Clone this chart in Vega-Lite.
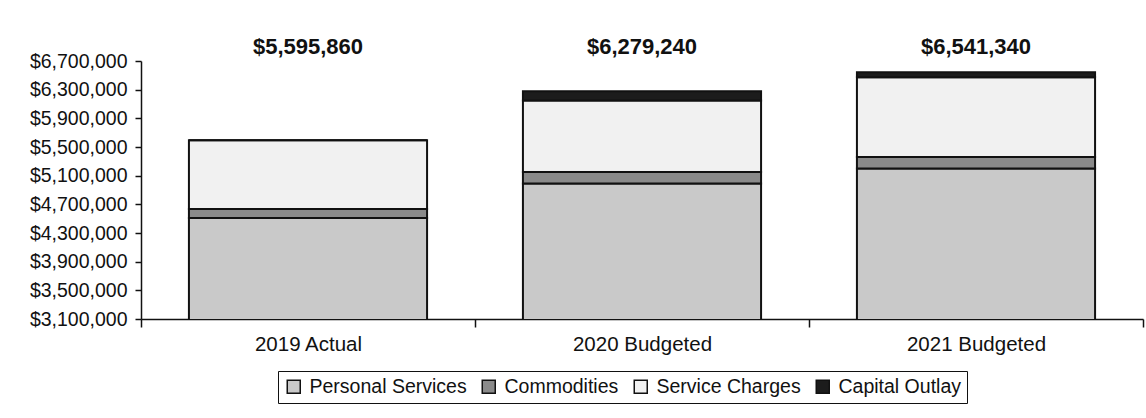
{
  "$schema": "https://vega.github.io/schema/vega-lite/v6.json",
  "width": 1002,
  "height": 258,
  "autosize": {"type": "none"},
  "padding": {"left": 141, "top": 61, "right": 3, "bottom": 99},
  "background": "white",
  "config": {
    "font": "Liberation Sans",
    "view": {"stroke": null},
    "axis": {"grid": false, "domainColor": "#111", "tickColor": "#111", "labelColor": "#111", "domainWidth": 1.5, "tickWidth": 1.5, "labelFont": "Liberation Sans"}
  },
  "data": {
    "values": [
      {"year": "2019 Actual", "category": "Personal Services", "seq": 1, "value": 4510000},
      {"year": "2019 Actual", "category": "Commodities", "seq": 2, "value": 125000},
      {"year": "2019 Actual", "category": "Service Charges", "seq": 3, "value": 960860},
      {"year": "2019 Actual", "category": "Capital Outlay", "seq": 4, "value": 0},
      {"year": "2020 Budgeted", "category": "Personal Services", "seq": 1, "value": 4990000},
      {"year": "2020 Budgeted", "category": "Commodities", "seq": 2, "value": 160000},
      {"year": "2020 Budgeted", "category": "Service Charges", "seq": 3, "value": 1000000},
      {"year": "2020 Budgeted", "category": "Capital Outlay", "seq": 4, "value": 129240},
      {"year": "2021 Budgeted", "category": "Personal Services", "seq": 1, "value": 5200000},
      {"year": "2021 Budgeted", "category": "Commodities", "seq": 2, "value": 160000},
      {"year": "2021 Budgeted", "category": "Service Charges", "seq": 3, "value": 1115000},
      {"year": "2021 Budgeted", "category": "Capital Outlay", "seq": 4, "value": 66340}
    ]
  },
  "encoding": {
    "x": {
      "field": "year",
      "type": "nominal",
      "sort": null,
      "scale": {"paddingInner": 0, "paddingOuter": 0},
      "axis": {"title": null, "labelAngle": 0, "tickBand": "extent", "tickSize": 8, "labelPadding": 7, "labelFontSize": 20.5}
    }
  },
  "layer": [
    {
      "mark": {"type": "bar", "width": {"band": 0.713}, "clip": true, "stroke": "#111", "strokeWidth": 2},
      "encoding": {
        "y": {
          "field": "value",
          "type": "quantitative",
          "stack": "zero",
          "scale": {"domain": [3100000, 6700000], "nice": false, "zero": false},
          "axis": {"title": null, "values": [3100000, 3500000, 3900000, 4300000, 4700000, 5100000, 5500000, 5900000, 6300000, 6700000], "tickCount": 20, "format": "$,.0f", "tickSize": 6, "labelPadding": 8, "labelFontSize": 19.5, "labelOverlap": false, "labelBound": false, "labelFlush": false}
        },
        "order": {"field": "seq", "type": "quantitative", "sort": "ascending"},
        "color": {
          "field": "category",
          "type": "nominal",
          "sort": ["Personal Services", "Commodities", "Service Charges", "Capital Outlay"],
          "scale": {"domain": ["Personal Services", "Commodities", "Service Charges", "Capital Outlay"], "range": ["#c9c9c9", "#8a8a8a", "#f1f1f1", "#1c1c1c"]},
          "legend": {
            "title": null,
            "orient": "none",
            "direction": "horizontal",
            "legendX": 137,
            "legendY": 310,
            "columns": 4,
            "gridAlign": "none",
            "columnPadding": 12,
            "padding": 6,
            "strokeColor": "#111",
            "symbolType": "square",
            "symbolSize": 169,
            "symbolStrokeColor": "#111",
            "symbolStrokeWidth": 1.5,
            "symbolOpacity": 1,
            "labelFontSize": 19.5,
            "labelColor": "#111",
            "labelOffset": 6,
            "labelLimit": 300
          }
        }
      }
    },
    {
      "transform": [{"aggregate": [{"op": "sum", "field": "value", "as": "total"}], "groupby": ["year"]}],
      "mark": {"type": "text", "fontSize": 22, "fontWeight": "bold", "color": "#111", "baseline": "alphabetic", "align": "center"},
      "encoding": {
        "y": {"datum": 6800000},
        "text": {"field": "total", "type": "quantitative", "format": "$,.0f"}
      }
    }
  ]
}
